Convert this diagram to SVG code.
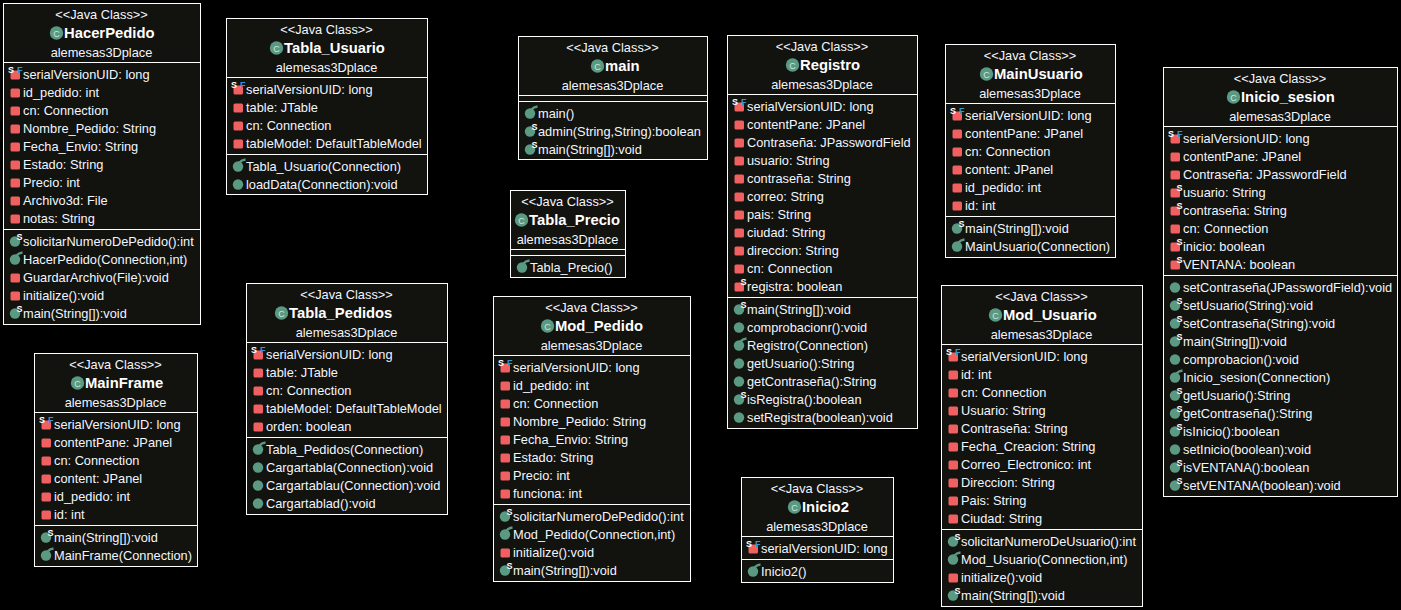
<svg xmlns="http://www.w3.org/2000/svg" width="1401" height="610" viewBox="0 0 1401 610">
<style>
text{font-family:"Liberation Sans",Arial,sans-serif;font-size:12.8px;fill:#f2f6ff;transform:translate(-.5px,-1px)}
.h{text-anchor:middle}
.t{font-weight:bold;font-size:14.8px;fill:#fff}
.b{fill:#12120e;stroke:#fff;stroke-width:1}
.l{stroke:#fff;stroke-width:1;fill:none}
.s{font-size:9px;font-weight:bold;fill:#fff}
.f{font-size:9px;font-weight:bold;fill:#2f9ad8}
</style>
<defs>
<rect id="a" x="7" y="-9" width="9.5" height="9" rx="1.5" fill="#f06060"/>
<circle id="m" cx="11.5" cy="-5" r="5.2" fill="#5a9a82"/>
<g id="ap"><use href="#a"/><text class="s" x="13.5" y="-6">S</text></g>
<g id="af"><use href="#a"/><text class="s" x="5" y="-6">S</text><text class="f" x="14" y="-6">F</text></g>
<g id="ms"><use href="#m"/><text class="s" x="13.5" y="-6">S</text></g>
<g id="mc"><use href="#m"/><path d="M13-9Q15-11.500 19-12" stroke="#5a9a82" stroke-width="2.500" fill="none"/></g>
<g id="cc"><circle cx="0" cy="0" r="6.700" fill="#5a9a82"/><text x="0.500" y="4.500" text-anchor="middle" style="font-size:9px;fill:#cfe5da">C</text></g>
</defs>
<rect width="1401" height="610" fill="#000"/>

<g id="HacerPedido" transform="translate(3.5 3.5)">
<rect class="b" width="197" height="321"/><path class="l" d="M0 59H197M0 226H197"/>
<text class="h" x="98.5" y="16">&lt;&lt;Java Class&gt;&gt;</text><use href="#cc" x="53" y="29.500"/><text class="t" x="61" y="35">HacerPedido</text><text class="h" x="98.5" y="54">alemesas3Dplace</text>
<use href="#af" y="76"/><text x="20" y="76">serialVersionUID: long</text>
<use href="#a" y="94"/><text x="20" y="94">id_pedido: int</text>
<use href="#a" y="112"/><text x="20" y="112">cn: Connection</text>
<use href="#a" y="130"/><text x="20" y="130">Nombre_Pedido: String</text>
<use href="#a" y="148"/><text x="20" y="148">Fecha_Envio: String</text>
<use href="#a" y="166"/><text x="20" y="166">Estado: String</text>
<use href="#a" y="184"/><text x="20" y="184">Precio: int</text>
<use href="#a" y="202"/><text x="20" y="202">Archivo3d: File</text>
<use href="#a" y="220"/><text x="20" y="220">notas: String</text>
<use href="#ms" y="243"/><text x="20" y="243">solicitarNumeroDePedido():int</text>
<use href="#mc" y="261"/><text x="20" y="261">HacerPedido(Connection,int)</text>
<use href="#a" y="279"/><text x="20" y="279">GuardarArchivo(File):void</text>
<use href="#a" y="297"/><text x="20" y="297">initialize():void</text>
<use href="#ms" y="315"/><text x="20" y="315">main(String[]):void</text>
</g>

<g id="MainFrame" transform="translate(34.5 353.5)">
<rect class="b" width="163" height="213"/><path class="l" d="M0 59H163M0 172H163"/>
<text class="h" x="81.5" y="16">&lt;&lt;Java Class&gt;&gt;</text><use href="#cc" x="43" y="29.500"/><text class="t" x="51" y="35">MainFrame</text><text class="h" x="81.5" y="54">alemesas3Dplace</text>
<use href="#af" y="76"/><text x="20" y="76">serialVersionUID: long</text>
<use href="#a" y="94"/><text x="20" y="94">contentPane: JPanel</text>
<use href="#a" y="112"/><text x="20" y="112">cn: Connection</text>
<use href="#a" y="130"/><text x="20" y="130">content: JPanel</text>
<use href="#a" y="148"/><text x="20" y="148">id_pedido: int</text>
<use href="#a" y="166"/><text x="20" y="166">id: int</text>
<use href="#ms" y="189"/><text x="20" y="189">main(String[]):void</text>
<use href="#mc" y="207"/><text x="20" y="207">MainFrame(Connection)</text>
</g>

<g id="Tabla_Usuario" transform="translate(226.5 18.5)">
<rect class="b" width="201" height="176"/><path class="l" d="M0 59H201M0 136H201"/>
<text class="h" x="100.5" y="16">&lt;&lt;Java Class&gt;&gt;</text><use href="#cc" x="50" y="29.500"/><text class="t" x="58" y="35">Tabla_Usuario</text><text class="h" x="100.5" y="54">alemesas3Dplace</text>
<use href="#af" y="76"/><text x="20" y="76">serialVersionUID: long</text>
<use href="#a" y="94"/><text x="20" y="94">table: JTable</text>
<use href="#a" y="112"/><text x="20" y="112">cn: Connection</text>
<use href="#a" y="130"/><text x="20" y="130">tableModel: DefaultTableModel</text>
<use href="#mc" y="153"/><text x="20" y="153">Tabla_Usuario(Connection)</text>
<use href="#m" y="171"/><text x="20" y="171">loadData(Connection):void</text>
</g>

<g id="Tabla_Pedidos" transform="translate(246.5 283.5)">
<rect class="b" width="201" height="231"/><path class="l" d="M0 59H201M0 154H201"/>
<text class="h" x="100.5" y="16">&lt;&lt;Java Class&gt;&gt;</text><use href="#cc" x="35" y="29.500"/><text class="t" x="43" y="35">Tabla_Pedidos</text><text class="h" x="100.5" y="54">alemesas3Dplace</text>
<use href="#af" y="76"/><text x="20" y="76">serialVersionUID: long</text>
<use href="#a" y="94"/><text x="20" y="94">table: JTable</text>
<use href="#a" y="112"/><text x="20" y="112">cn: Connection</text>
<use href="#a" y="130"/><text x="20" y="130">tableModel: DefaultTableModel</text>
<use href="#a" y="148"/><text x="20" y="148">orden: boolean</text>
<use href="#mc" y="171"/><text x="20" y="171">Tabla_Pedidos(Connection)</text>
<use href="#m" y="189"/><text x="20" y="189">Cargartabla(Connection):void</text>
<use href="#m" y="207"/><text x="20" y="207">Cargartablau(Connection):void</text>
<use href="#m" y="225"/><text x="20" y="225">Cargartablad():void</text>
</g>

<g id="main" transform="translate(518.5 36.5)">
<rect class="b" width="189" height="123"/><path class="l" d="M0 59H189M0 65H189"/>
<text class="h" x="94.5" y="16">&lt;&lt;Java Class&gt;&gt;</text><use href="#cc" x="79" y="29.500"/><text class="t" x="87" y="35">main</text><text class="h" x="94.5" y="54">alemesas3Dplace</text>
<use href="#mc" y="82"/><text x="20" y="82">main()</text>
<use href="#ms" y="100"/><text x="20" y="100">admin(String,String):boolean</text>
<use href="#ms" y="118"/><text x="20" y="118">main(String[]):void</text>
</g>

<g id="Tabla_Precio" transform="translate(510.5 190.5)">
<rect class="b" width="115" height="87"/><path class="l" d="M0 59H115M0 65H115"/>
<text class="h" x="57.5" y="16">&lt;&lt;Java Class&gt;&gt;</text><use href="#cc" x="11" y="29.500"/><text class="t" x="19" y="35">Tabla_Precio</text><text class="h" x="57.5" y="54">alemesas3Dplace</text>
<use href="#mc" y="82"/><text x="20" y="82">Tabla_Precio()</text>
</g>

<g id="Mod_Pedido" transform="translate(493.5 296.5)">
<rect class="b" width="197" height="285"/><path class="l" d="M0 59H197M0 208H197"/>
<text class="h" x="98.5" y="16">&lt;&lt;Java Class&gt;&gt;</text><use href="#cc" x="54" y="29.500"/><text class="t" x="62" y="35">Mod_Pedido</text><text class="h" x="98.5" y="54">alemesas3Dplace</text>
<use href="#af" y="76"/><text x="20" y="76">serialVersionUID: long</text>
<use href="#a" y="94"/><text x="20" y="94">id_pedido: int</text>
<use href="#a" y="112"/><text x="20" y="112">cn: Connection</text>
<use href="#a" y="130"/><text x="20" y="130">Nombre_Pedido: String</text>
<use href="#a" y="148"/><text x="20" y="148">Fecha_Envio: String</text>
<use href="#a" y="166"/><text x="20" y="166">Estado: String</text>
<use href="#a" y="184"/><text x="20" y="184">Precio: int</text>
<use href="#a" y="202"/><text x="20" y="202">funciona: int</text>
<use href="#ms" y="225"/><text x="20" y="225">solicitarNumeroDePedido():int</text>
<use href="#mc" y="243"/><text x="20" y="243">Mod_Pedido(Connection,int)</text>
<use href="#a" y="261"/><text x="20" y="261">initialize():void</text>
<use href="#ms" y="279"/><text x="20" y="279">main(String[]):void</text>
</g>

<g id="Registro" transform="translate(727.5 35.5)">
<rect class="b" width="190" height="393"/><path class="l" d="M0 59H190M0 262H190"/>
<text class="h" x="95" y="16">&lt;&lt;Java Class&gt;&gt;</text><use href="#cc" x="65" y="29.500"/><text class="t" x="73" y="35">Registro</text><text class="h" x="95" y="54">alemesas3Dplace</text>
<use href="#af" y="76"/><text x="20" y="76">serialVersionUID: long</text>
<use href="#a" y="94"/><text x="20" y="94">contentPane: JPanel</text>
<use href="#a" y="112"/><text x="20" y="112">Contraseña: JPasswordField</text>
<use href="#a" y="130"/><text x="20" y="130">usuario: String</text>
<use href="#a" y="148"/><text x="20" y="148">contraseña: String</text>
<use href="#a" y="166"/><text x="20" y="166">correo: String</text>
<use href="#a" y="184"/><text x="20" y="184">pais: String</text>
<use href="#a" y="202"/><text x="20" y="202">ciudad: String</text>
<use href="#a" y="220"/><text x="20" y="220">direccion: String</text>
<use href="#a" y="238"/><text x="20" y="238">cn: Connection</text>
<use href="#ap" y="256"/><text x="20" y="256">registra: boolean</text>
<use href="#ms" y="279"/><text x="20" y="279">main(String[]):void</text>
<use href="#m" y="297"/><text x="20" y="297">comprobacionr():void</text>
<use href="#mc" y="315"/><text x="20" y="315">Registro(Connection)</text>
<use href="#m" y="333"/><text x="20" y="333">getUsuario():String</text>
<use href="#m" y="351"/><text x="20" y="351">getContraseña():String</text>
<use href="#ms" y="369"/><text x="20" y="369">isRegistra():boolean</text>
<use href="#m" y="387"/><text x="20" y="387">setRegistra(boolean):void</text>
</g>

<g id="MainUsuario" transform="translate(945.5 44.5)">
<rect class="b" width="170" height="213"/><path class="l" d="M0 59H170M0 172H170"/>
<text class="h" x="85" y="16">&lt;&lt;Java Class&gt;&gt;</text><use href="#cc" x="41" y="29.500"/><text class="t" x="49" y="35">MainUsuario</text><text class="h" x="85" y="54">alemesas3Dplace</text>
<use href="#af" y="76"/><text x="20" y="76">serialVersionUID: long</text>
<use href="#a" y="94"/><text x="20" y="94">contentPane: JPanel</text>
<use href="#a" y="112"/><text x="20" y="112">cn: Connection</text>
<use href="#a" y="130"/><text x="20" y="130">content: JPanel</text>
<use href="#a" y="148"/><text x="20" y="148">id_pedido: int</text>
<use href="#a" y="166"/><text x="20" y="166">id: int</text>
<use href="#ms" y="189"/><text x="20" y="189">main(String[]):void</text>
<use href="#mc" y="207"/><text x="20" y="207">MainUsuario(Connection)</text>
</g>

<g id="Inicio2" transform="translate(741.5 477.5)">
<rect class="b" width="152" height="105"/><path class="l" d="M0 59H152M0 82H152"/>
<text class="h" x="76" y="16">&lt;&lt;Java Class&gt;&gt;</text><use href="#cc" x="53" y="29.500"/><text class="t" x="61" y="35">Inicio2</text><text class="h" x="76" y="54">alemesas3Dplace</text>
<use href="#af" y="76"/><text x="20" y="76">serialVersionUID: long</text>
<use href="#mc" y="99"/><text x="20" y="99">Inicio2()</text>
</g>

<g id="Mod_Usuario" transform="translate(941.5 285.5)">
<rect class="b" width="201" height="321"/><path class="l" d="M0 59H201M0 244H201"/>
<text class="h" x="100.5" y="16">&lt;&lt;Java Class&gt;&gt;</text><use href="#cc" x="54" y="29.500"/><text class="t" x="62" y="35">Mod_Usuario</text><text class="h" x="100.5" y="54">alemesas3Dplace</text>
<use href="#af" y="76"/><text x="20" y="76">serialVersionUID: long</text>
<use href="#a" y="94"/><text x="20" y="94">id: int</text>
<use href="#a" y="112"/><text x="20" y="112">cn: Connection</text>
<use href="#a" y="130"/><text x="20" y="130">Usuario: String</text>
<use href="#a" y="148"/><text x="20" y="148">Contraseña: String</text>
<use href="#a" y="166"/><text x="20" y="166">Fecha_Creacion: String</text>
<use href="#a" y="184"/><text x="20" y="184">Correo_Electronico: int</text>
<use href="#a" y="202"/><text x="20" y="202">Direccion: String</text>
<use href="#a" y="220"/><text x="20" y="220">Pais: String</text>
<use href="#a" y="238"/><text x="20" y="238">Ciudad: String</text>
<use href="#ms" y="261"/><text x="20" y="261">solicitarNumeroDeUsuario():int</text>
<use href="#mc" y="279"/><text x="20" y="279">Mod_Usuario(Connection,int)</text>
<use href="#a" y="297"/><text x="20" y="297">initialize():void</text>
<use href="#ms" y="315"/><text x="20" y="315">main(String[]):void</text>
</g>

<g id="Inicio_sesion" transform="translate(1163.5 67.5)">
<rect class="b" width="234" height="429"/><path class="l" d="M0 59H234M0 208H234"/>
<text class="h" x="117" y="16">&lt;&lt;Java Class&gt;&gt;</text><use href="#cc" x="70" y="29.500"/><text class="t" x="78" y="35">Inicio_sesion</text><text class="h" x="117" y="54">alemesas3Dplace</text>
<use href="#af" y="76"/><text x="20" y="76">serialVersionUID: long</text>
<use href="#a" y="94"/><text x="20" y="94">contentPane: JPanel</text>
<use href="#a" y="112"/><text x="20" y="112">Contraseña: JPasswordField</text>
<use href="#ap" y="130"/><text x="20" y="130">usuario: String</text>
<use href="#ap" y="148"/><text x="20" y="148">contraseña: String</text>
<use href="#a" y="166"/><text x="20" y="166">cn: Connection</text>
<use href="#ap" y="184"/><text x="20" y="184">inicio: boolean</text>
<use href="#ap" y="202"/><text x="20" y="202">VENTANA: boolean</text>
<use href="#m" y="225"/><text x="20" y="225">setContraseña(JPasswordField):void</text>
<use href="#ms" y="243"/><text x="20" y="243">setUsuario(String):void</text>
<use href="#ms" y="261"/><text x="20" y="261">setContraseña(String):void</text>
<use href="#ms" y="279"/><text x="20" y="279">main(String[]):void</text>
<use href="#m" y="297"/><text x="20" y="297">comprobacion():void</text>
<use href="#mc" y="315"/><text x="20" y="315">Inicio_sesion(Connection)</text>
<use href="#ms" y="333"/><text x="20" y="333">getUsuario():String</text>
<use href="#ms" y="351"/><text x="20" y="351">getContraseña():String</text>
<use href="#ms" y="369"/><text x="20" y="369">isInicio():boolean</text>
<use href="#m" y="387"/><text x="20" y="387">setInicio(boolean):void</text>
<use href="#ms" y="405"/><text x="20" y="405">isVENTANA():boolean</text>
<use href="#ms" y="423"/><text x="20" y="423">setVENTANA(boolean):void</text>
</g>
</svg>
